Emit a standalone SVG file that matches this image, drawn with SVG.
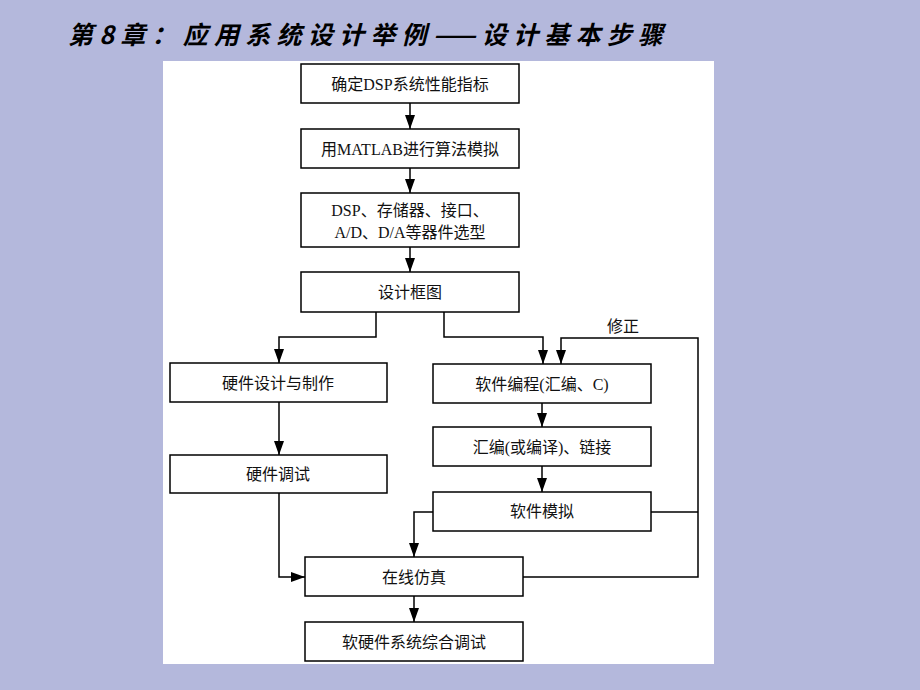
<svg xmlns="http://www.w3.org/2000/svg" width="920" height="690" viewBox="0 0 920 690">
  <style>
    .box { fill: #ffffff; stroke: #000000; stroke-width: 1.5; }
    .lbl { font-family: "Liberation Serif", "Noto Sans CJK SC", serif; font-size: 16px; fill: #111111; text-anchor: middle; dominant-baseline: central; }
    .conn { fill: none; stroke: #000000; stroke-width: 1.5; }
    .title { font-family: "Noto Sans CJK SC", sans-serif; font-size: 25px; font-weight: bold; font-style: italic; fill: #000000; }
  </style>
  <defs>
    <marker id="arr" markerUnits="userSpaceOnUse" markerWidth="14" markerHeight="12" viewBox="0 0 14 12" refX="14" refY="6" orient="auto">
      <path d="M0,1 L14,6 L0,11 Z" fill="#000000"/>
    </marker>
  </defs>
  <rect x="0" y="0" width="920" height="690" fill="#b4b8dc"/>
  <rect x="163" y="61" width="551" height="603" fill="#ffffff"/>
  <text class="title" x="68" y="44" textLength="595" lengthAdjust="spacing">第8章：应用系统设计举例——设计基本步骤</text>

  <g id="connectors">
    <path class="conn" d="M410,103 L410,129" marker-end="url(#arr)"/>
    <path class="conn" d="M410,168 L410,193" marker-end="url(#arr)"/>
    <path class="conn" d="M410,247 L410,272" marker-end="url(#arr)"/>
    <path class="conn" d="M376,312 L376,337 L279,337 L279,363" marker-end="url(#arr)"/>
    <path class="conn" d="M444,312 L444,337 L543,337 L543,364" marker-end="url(#arr)"/>
    <path class="conn" d="M523,577 L698,577 L698,338 L561,338 L561,364" marker-end="url(#arr)"/>
    <path class="conn" d="M651,512 L698,512"/>
    <path class="conn" d="M433,512 L414,512 L414,557" marker-end="url(#arr)"/>
    <path class="conn" d="M279,402 L279,455" marker-end="url(#arr)"/>
    <path class="conn" d="M542,403 L542,427" marker-end="url(#arr)"/>
    <path class="conn" d="M542,466 L542,492" marker-end="url(#arr)"/>
    <path class="conn" d="M279,493 L279,577 L305,577" marker-end="url(#arr)"/>
    <path class="conn" d="M414,596 L414,622" marker-end="url(#arr)"/>
    <text class="lbl" x="623" y="326">修正</text>
  </g>

  <g id="n1"><rect class="box" x="301" y="64" width="218" height="39"/><text class="lbl" x="410" y="84">确定DSP系统性能指标</text></g>
  <g id="n2"><rect class="box" x="301" y="129" width="218" height="39"/><text class="lbl" x="410" y="149">用MATLAB进行算法模拟</text></g>
  <g id="n3"><rect class="box" x="301" y="193" width="218" height="54"/><text class="lbl" x="410" y="210">DSP、存储器、接口、</text><text class="lbl" x="410" y="232">A/D、D/A等器件选型</text></g>
  <g id="n4"><rect class="box" x="301" y="272" width="218" height="40"/><text class="lbl" x="410" y="292">设计框图</text></g>
  <g id="n5"><rect class="box" x="170" y="363" width="217" height="39"/><text class="lbl" x="278" y="383">硬件设计与制作</text></g>
  <g id="n6"><rect class="box" x="433" y="364" width="218" height="39"/><text class="lbl" x="542" y="384">软件编程(汇编、C)</text></g>
  <g id="n7"><rect class="box" x="433" y="427" width="218" height="39"/><text class="lbl" x="542" y="447">汇编(或编译)、链接</text></g>
  <g id="n8"><rect class="box" x="433" y="492" width="218" height="39"/><text class="lbl" x="542" y="511">软件模拟</text></g>
  <g id="n9"><rect class="box" x="170" y="455" width="217" height="38"/><text class="lbl" x="278" y="474">硬件调试</text></g>
  <g id="n10"><rect class="box" x="305" y="557" width="218" height="39"/><text class="lbl" x="414" y="577">在线仿真</text></g>
  <g id="n11"><rect class="box" x="305" y="622" width="218" height="39"/><text class="lbl" x="414" y="642">软硬件系统综合调试</text></g>
</svg>
